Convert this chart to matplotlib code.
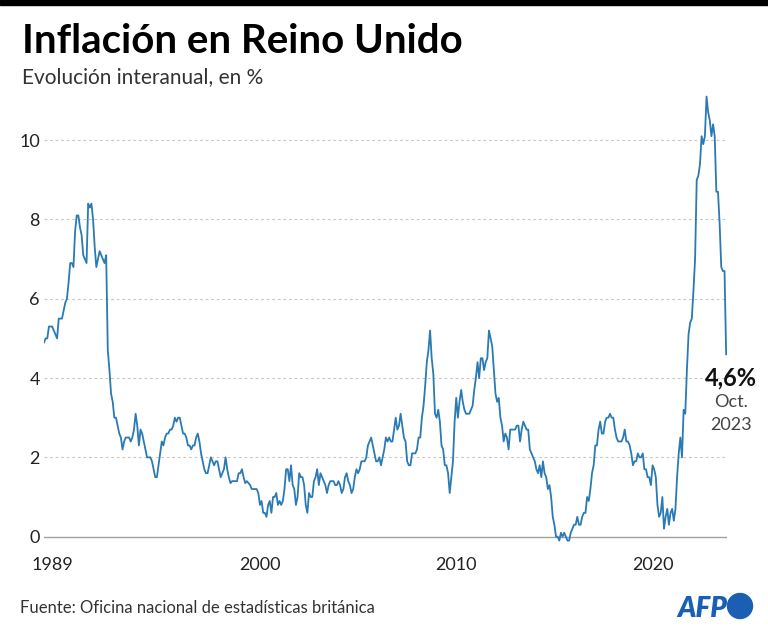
import numpy as np
import matplotlib
matplotlib.use("Agg")
import matplotlib.pyplot as plt
from matplotlib.patches import Circle

plt.rcParams['font.family'] = ['Lato', 'DejaVu Sans']

# UK CPI, year-on-year %, monthly from Jan 1989 to Oct 2023
cpi_1989_1999 = [
    4.9, 5.0, 5.0, 5.3, 5.3, 5.3, 5.2, 5.1, 5.0, 5.5, 5.5, 5.5,   # 1989
    5.7, 5.9, 6.0, 6.4, 6.9, 6.9, 6.8, 7.7, 8.1, 8.1, 7.8, 7.6,   # 1990
    7.1, 7.0, 6.9, 8.4, 8.3, 8.4, 8.0, 7.3, 6.8, 7.0, 7.2, 7.1,   # 1991
    7.0, 6.9, 7.1, 4.7, 4.2, 3.6, 3.4, 3.0, 3.0, 2.8, 2.6, 2.5,   # 1992
    2.2, 2.4, 2.5, 2.5, 2.5, 2.4, 2.5, 2.7, 3.1, 2.8, 2.3, 2.7,   # 1993
    2.6, 2.4, 2.2, 2.0, 2.0, 2.0, 1.9, 1.7, 1.5, 1.5, 1.8, 2.1,   # 1994
    2.4, 2.3, 2.5, 2.6, 2.6, 2.7, 2.7, 2.8, 3.0, 2.9, 3.0, 3.0,   # 1995
    2.8, 2.6, 2.6, 2.5, 2.3, 2.3, 2.2, 2.3, 2.3, 2.5, 2.6, 2.4,   # 1996
    2.1, 1.9, 1.7, 1.6, 1.6, 1.8, 2.0, 1.9, 1.8, 1.9, 1.9, 1.7,   # 1997
    1.5, 1.6, 1.7, 2.0, 1.7, 1.5, 1.35, 1.4, 1.4, 1.4, 1.4, 1.6,  # 1998
    1.6, 1.7, 1.5, 1.35, 1.4, 1.35, 1.3, 1.2, 1.2, 1.2, 1.2, 1.1,  # 1999
]
cpi_2000_2009 = [
    0.8, 0.9, 0.6, 0.6, 0.5, 0.8, 0.9, 0.6, 1.0, 1.0, 1.1, 0.8,
    0.9, 0.8, 0.9, 1.2, 1.7, 1.7, 1.4, 1.8, 1.3, 1.2, 0.8, 1.0,
    1.6, 1.5, 1.5, 1.3, 0.8, 0.6, 1.1, 1.0, 1.0, 1.4, 1.5, 1.7,
    1.3, 1.6, 1.5, 1.4, 1.3, 1.1, 1.3, 1.4, 1.4, 1.4, 1.3, 1.3,
    1.4, 1.3, 1.1, 1.2, 1.5, 1.6, 1.4, 1.3, 1.1, 1.2, 1.5, 1.7,
    1.6, 1.7, 1.9, 1.9, 1.9, 2.0, 2.3, 2.4, 2.5, 2.3, 2.1, 1.9,
    1.9, 2.0, 1.8, 2.0, 2.2, 2.5, 2.4, 2.5, 2.4, 2.4, 2.7, 3.0,
    2.7, 2.8, 3.1, 2.8, 2.5, 2.4, 1.9, 1.8, 1.8, 2.1, 2.1, 2.1,
    2.2, 2.5, 2.5, 3.0, 3.3, 3.8, 4.4, 4.7, 5.2, 4.5, 4.1, 3.1,
    3.0, 3.2, 2.9, 2.3, 2.2, 1.8, 1.8, 1.6, 1.1, 1.5, 1.9, 2.9,
]
cpi_2010_2019 = [
    3.5, 3.0, 3.4, 3.7, 3.4, 3.2, 3.1, 3.1, 3.1, 3.2, 3.3, 3.7,
    4.0, 4.4, 4.0, 4.5, 4.5, 4.2, 4.4, 4.5, 5.2, 5.0, 4.8, 4.2,
    3.6, 3.4, 3.5, 3.0, 2.8, 2.4, 2.6, 2.5, 2.2, 2.7, 2.7, 2.7,
    2.7, 2.8, 2.8, 2.4, 2.7, 2.9, 2.8, 2.7, 2.7, 2.2, 2.1, 2.0,
    1.9, 1.7, 1.6, 1.8, 1.5, 1.9, 1.6, 1.5, 1.2, 1.3, 1.0, 0.5,
    0.3, 0.0, 0.0, -0.1, 0.1, 0.0, 0.1, 0.0, -0.1, -0.1, 0.1, 0.2,
    0.3, 0.3, 0.5, 0.3, 0.3, 0.5, 0.6, 0.6, 1.0, 0.9, 1.2, 1.6,
    1.8, 2.3, 2.3, 2.7, 2.9, 2.6, 2.6, 2.9, 3.0, 3.0, 3.1, 3.0,
    3.0, 2.7, 2.5, 2.4, 2.4, 2.4, 2.5, 2.7, 2.4, 2.4, 2.3, 2.1,
    1.8, 1.9, 1.9, 2.1, 2.0, 2.0, 2.1, 1.7, 1.7, 1.5, 1.5, 1.3,
]
cpi_2020_2023 = [
    1.8, 1.7, 1.5, 0.8, 0.5, 0.6, 1.0, 0.2, 0.5, 0.7, 0.3, 0.6,
    0.7, 0.4, 0.7, 1.5, 2.1, 2.5, 2.0, 3.2, 3.1, 4.2, 5.1, 5.4,
    5.5, 6.2, 7.0, 9.0, 9.1, 9.4, 10.1, 9.9, 10.1, 11.1, 10.7, 10.5,
    10.1, 10.4, 10.1, 8.7, 8.7, 7.9, 6.8, 6.7, 6.7, 4.6,
]

year_ticks = [1989, 2000, 2010, 2020]
y_ticks = [0, 2, 4, 6, 8, 10]

cpi = cpi_1989_1999 + cpi_2000_2009 + cpi_2010_2019 + cpi_2020_2023
t = 1989 + np.arange(len(cpi)) / 12.0

line_color = '#2a7ab3'
fig = plt.figure(figsize=(7.68, 6.33), dpi=100)
ax = fig.add_axes([0.0573, 0.1397, 0.8895, 0.714])

# grid
for v in y_ticks[1:]:
    ax.axhline(v, color='#c8c8c8', lw=0.8, ls=(0, (2.5, 2.5)), zorder=1)
ax.axhline(0, color='#a0a0a0', lw=1.0, zorder=1)

ax.plot(t, cpi, color=line_color, lw=1.3, zorder=3, solid_joinstyle='round')

ax.set_xlim(1989, 2023.8)
ax.set_ylim(-0.2, 11.2)
for s in ax.spines.values():
    s.set_visible(False)

ax.set_yticks(y_ticks)
ax.set_yticklabels([str(v) for v in y_ticks])
ax.set_xticks([1989.45] + year_ticks[1:])
ax.set_xticklabels([str(y) for y in year_ticks])
ax.tick_params(axis='both', length=0, labelsize=13, colors='#222222')
ax.tick_params(axis='y', pad=3)
ax.tick_params(axis='x', pad=9)

# last value annotation
ax.text(2024.0, 4.0, '4,6%', ha='center', va='center', fontsize=17,
        fontweight='bold', color='#111111')
ax.text(2024.0, 3.40, 'Oct.', ha='center', va='center', fontsize=13,
        color='#444444')
ax.text(2024.0, 2.82, '2023', ha='center', va='center', fontsize=13,
        color='#444444')

# header
fig.patches.append(plt.Rectangle((0, 0.992), 1, 0.008, transform=fig.transFigure,
                                 color='black'))
fig.text(0.0286, 0.916, 'Inflación en Reino Unido', fontsize=29,
         fontweight='bold', color='black', va='baseline')
fig.text(0.0286, 0.869, 'Evolución interanual, en %', fontsize=15,
         color='#333333', va='baseline')

# footer
fig.text(0.026, 0.032, 'Fuente: Oficina nacional de estadísticas británica',
         fontsize=12, color='#333333', va='baseline')
logo_blue = '#1a5fb4'
fig.text(0.947, 0.026, 'AFP', fontsize=20, fontweight='heavy', style='italic',
         color=logo_blue, ha='right', va='baseline')
fig.patches.append(Circle((7.40, 0.27), 0.125, transform=fig.dpi_scale_trans,
                          color=logo_blue))

fig.savefig('out.png', dpi=100)
